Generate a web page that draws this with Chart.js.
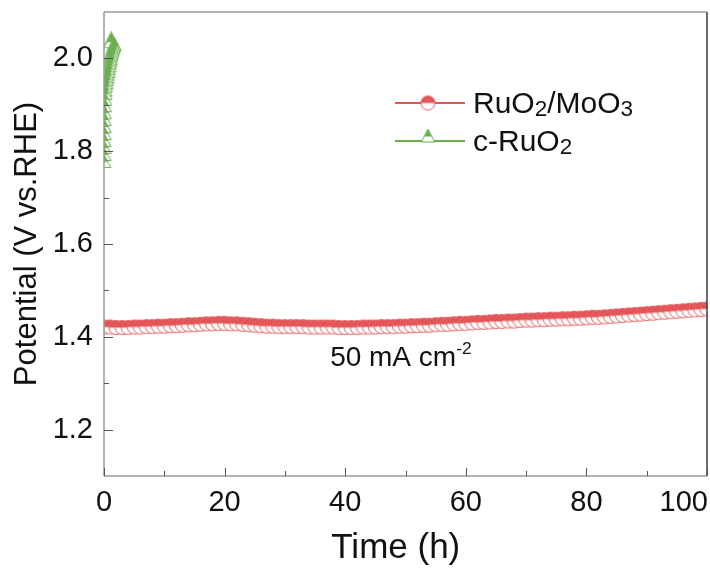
<!DOCTYPE html>
<html>
<head>
<meta charset="utf-8">
<title>Stability test</title>
<script src="https://cdn.jsdelivr.net/npm/chart.js@4.4.1/dist/chart.umd.min.js"></script>
<style>
  html, body { margin: 0; padding: 0; background: #fff; }
  #wrap { width: 710px; height: 569px; }
</style>
</head>
<body>
<div id="wrap"><canvas id="chart" width="710" height="569"></canvas></div>
<script>
// chronopotentiometry at 50 mA cm-2, RuO2/MoO3 vs commercial RuO2

const RED = '#e35557';
const GREEN = '#6aaf4f';
const FONT = '"Liberation Sans", Arial, sans-serif';

const seriesNames = ['RuO2/MoO3', 'c-RuO2'];

// RuO2/MoO3 : time (h) / potential (V vs. RHE)
const ruTime = [
  0, 1, 2, 3, 4, 5, 6, 7, 8, 9, 10,
  11, 12, 13, 14, 15, 16, 17, 18, 19, 20,
  21, 22, 23, 24, 25, 26, 27, 28, 29, 30,
  31, 32, 33, 34, 35, 36, 37, 38, 39, 40,
  41, 42, 43, 44, 45, 46, 47, 48, 49, 50,
  51, 52, 53, 54, 55, 56, 57, 58, 59, 60,
  61, 62, 63, 64, 65, 66, 67, 68, 69, 70,
  71, 72, 73, 74, 75, 76, 77, 78, 79, 80,
  81, 82, 83, 84, 85, 86, 87, 88, 89, 90,
  91, 92, 93, 94, 95, 96, 97, 98, 99, 100
];
const ruPotential = [
  1.421, 1.421, 1.420, 1.420, 1.420, 1.421, 1.421, 1.422, 1.422, 1.423, 1.423,
  1.424, 1.424, 1.425, 1.426, 1.426, 1.427, 1.428, 1.428, 1.429, 1.429,
  1.428, 1.428, 1.427, 1.426, 1.425, 1.424, 1.423, 1.423, 1.422, 1.422,
  1.422, 1.422, 1.422, 1.421, 1.421, 1.421, 1.421, 1.421, 1.420, 1.420,
  1.420, 1.420, 1.421, 1.421, 1.421, 1.422, 1.422, 1.422, 1.423, 1.423,
  1.424, 1.424, 1.425, 1.425, 1.426, 1.427, 1.427, 1.428, 1.429, 1.429,
  1.430, 1.431, 1.431, 1.432, 1.433, 1.433, 1.434, 1.434, 1.435, 1.436,
  1.436, 1.437, 1.437, 1.438, 1.438, 1.439, 1.439, 1.440, 1.440, 1.441,
  1.442, 1.442, 1.443, 1.444, 1.445, 1.446, 1.447, 1.448, 1.449, 1.450,
  1.451, 1.452, 1.453, 1.454, 1.455, 1.456, 1.457, 1.458, 1.459, 1.460
];

// c-RuO2 : fails almost immediately
const cTime = [
  0.00, 0.00, 0.02, 0.04, 0.06, 0.08, 0.10, 0.12, 0.14, 0.16, 0.18,
  0.20, 0.28, 0.36, 0.44, 0.52, 0.60, 0.68, 0.76, 0.84, 0.92,
  1.00, 1.08, 1.16, 1.24, 1.32, 1.40, 1.48, 1.56, 1.64, 1.72,
  1.10, 1.20
];
const cPotential = [
  1.778, 1.793, 1.808, 1.823, 1.838, 1.853, 1.868, 1.883, 1.898, 1.912, 1.924,
  1.932, 1.940, 1.947, 1.954, 1.960, 1.966, 1.972, 1.978, 1.984, 1.990,
  1.995, 2.000, 2.005, 2.010, 2.014, 2.018, 2.022, 2.025, 2.028, 2.030,
  2.036, 2.042
];

const xMajorTicks = [0, 20, 40, 60, 80, 100];
const xMinorTicks = [10, 30, 50, 70, 90];
const yMajorTicks = [1.2, 1.4, 1.6, 1.8, 2.0];
const yMinorTicks = [1.3, 1.5, 1.7, 1.9];

// label "50 mA cm-2" anchored in data units
const noteText = [['50 mA cm', 0], ['-2', 2]];
const noteAt = { x: 37.5, y: 1.338 };

// ---- half filled markers (top half coloured, bottom half white)
function halfCircle(color, r){
  const s = 17, m = s / 2;
  const c = document.createElement('canvas');
  c.width = c.height = s;
  const g = c.getContext('2d');
  g.beginPath(); g.arc(m, m, r, 0, Math.PI * 2); g.fillStyle = '#fff'; g.fill();
  g.beginPath(); g.arc(m, m, r, Math.PI, Math.PI * 2); g.closePath(); g.fillStyle = color; g.fill();
  g.beginPath(); g.arc(m, m, r, 0, Math.PI * 2);
  g.strokeStyle = color; g.lineWidth = 1; g.stroke();
  return c;
}

function halfTriangle(color){
  const s = 15;
  const c = document.createElement('canvas');
  c.width = c.height = s;
  const g = c.getContext('2d');
  const path = () => { g.beginPath(); g.moveTo(7.5, 0.5); g.lineTo(14.2, 13.5); g.lineTo(0.8, 13.5); g.closePath(); };
  path(); g.fillStyle = '#fff'; g.fill();
  g.save(); g.beginPath(); g.rect(0, 0, s, 8); g.clip();
  path(); g.fillStyle = color; g.fill(); g.restore();
  path(); g.strokeStyle = color; g.lineWidth = 1; g.stroke();
  return c;
}

const ruMarker = halfCircle(RED, 7);
const cMarker = halfTriangle(GREEN);

function toPoints(xs, ys){ return xs.map((x, i) => ({ x: x, y: ys[i] })); }

// text with sub (1) / superscript (2) parts
function drawRich(ctx, segs, x, y, size){
  ctx.textAlign = 'left';
  ctx.textBaseline = 'alphabetic';
  for (const [t, mode] of segs){
    let fs = size, dy = 0;
    if (mode === 1){ fs = size * 0.75; dy = size * 0.1; }
    if (mode === 2){ fs = size * 0.62; dy = -size * 0.4; }
    ctx.font = fs + 'px ' + FONT;
    ctx.fillText(t, x, y + dy);
    x += ctx.measureText(t).width;
  }
}

// chemical label -> digits after letters become subscripts
function chemSegs(label){
  return label.split(/(\d+)/).filter(s => s.length).map(s => [s, /^\d+$/.test(s) ? 1 : 0]);
}

const framePlugin = {
  id: 'frame',
  afterDraw(chart){
    const ctx = chart.ctx;
    const a = chart.chartArea;
    const xs = chart.scales.x, ys = chart.scales.y;
    ctx.save();

    // frame
    ctx.lineWidth = 1.5;
    ctx.strokeStyle = '#9a9a9a';
    ctx.beginPath();
    ctx.moveTo(a.left, a.top); ctx.lineTo(a.right, a.top);
    ctx.moveTo(a.left, a.top); ctx.lineTo(a.left, a.bottom);
    ctx.moveTo(a.left, a.bottom); ctx.lineTo(a.right, a.bottom);
    ctx.stroke();
    ctx.strokeStyle = '#3c3c3c';
    ctx.beginPath(); ctx.moveTo(a.right, a.top); ctx.lineTo(a.right, a.bottom); ctx.stroke();

    // inward ticks
    ctx.lineWidth = 1;
    ctx.strokeStyle = '#555';
    ctx.beginPath();
    yMajorTicks.forEach(v => { const p = Math.round(ys.getPixelForValue(v)) + 0.5; ctx.moveTo(a.left, p); ctx.lineTo(a.left + 9, p); });
    yMinorTicks.forEach(v => { const p = Math.round(ys.getPixelForValue(v)) + 0.5; ctx.moveTo(a.left, p); ctx.lineTo(a.left + 5, p); });
    xMajorTicks.forEach(v => { const p = Math.round(xs.getPixelForValue(v)) + 0.5; ctx.moveTo(p, a.bottom); ctx.lineTo(p, a.bottom - 8); });
    xMinorTicks.forEach(v => { const p = Math.round(xs.getPixelForValue(v)) + 0.5; ctx.moveTo(p, a.bottom); ctx.lineTo(p, a.bottom - 5); });
    ctx.stroke();

    // x tick labels, kept inside the canvas
    ctx.fillStyle = '#111';
    ctx.font = '29px ' + FONT;
    ctx.textAlign = 'center';
    ctx.textBaseline = 'alphabetic';
    xMajorTicks.forEach(v => {
      const t = String(v);
      const w = ctx.measureText(t).width;
      const p = Math.min(xs.getPixelForValue(v), chart.width - 2 - w / 2);
      ctx.fillText(t, p, a.bottom + 35);
    });

    // annotation
    drawRich(ctx, noteText, xs.getPixelForValue(noteAt.x), ys.getPixelForValue(noteAt.y), 28);

    // legend
    const rows = [
      { img: ruMarker, color: RED, y: 103, my: 103 },
      { img: cMarker, color: GREEN, y: 141, my: 136 }
    ];
    rows.forEach((r, i) => {
      ctx.strokeStyle = r.color;
      ctx.lineWidth = 2;
      ctx.beginPath(); ctx.moveTo(395, r.y); ctx.lineTo(465, r.y); ctx.stroke();
      ctx.drawImage(r.img, 428 - r.img.width / 2, r.my - r.img.height / 2);
      ctx.fillStyle = '#111';
      drawRich(ctx, chemSegs(seriesNames[i]), 473, r.y + 10, 30);
    });
    ctx.restore();
  }
};

new Chart(document.getElementById('chart'), {
  type: 'line',
  data: {
    datasets: [
      {
        label: seriesNames[0],
        data: toPoints(ruTime, ruPotential),
        borderColor: RED,
        borderWidth: 1.5,
        pointStyle: ruMarker,
        pointRadius: 7,
        tension: 0
      },
      {
        label: seriesNames[1],
        // plotted from the top down so the lower markers sit on top
        data: toPoints(cTime, cPotential).reverse(),
        borderColor: GREEN,
        borderWidth: 1.5,
        pointStyle: cMarker,
        pointRadius: 7,
        tension: 0
      }
    ]
  },
  options: {
    responsive: false,
    animation: false,
    events: [],
    layout: { padding: { top: 12, right: 3, left: 0, bottom: 0 }, autoPadding: false },
    plugins: { legend: { display: false }, tooltip: { enabled: false } },
    scales: {
      x: {
        type: 'linear', min: 0, max: 100,
        grid: { display: false, drawTicks: false },
        border: { display: false },
        ticks: { display: false },
        title: { display: true, text: 'Time (h)  ', color: '#111', font: { family: FONT, size: 35 }, padding: { top: 0, bottom: 0 } },
        afterFit(s){ s.height = 93; s.paddingLeft = 0; s.paddingRight = 0; }
      },
      y: {
        type: 'linear', min: 1.1, max: 2.1,
        grid: { display: false, drawTicks: false },
        border: { display: false },
        afterBuildTicks(s){ s.ticks = yMajorTicks.map(v => ({ value: v })); },
        ticks: { color: '#111', font: { family: FONT, size: 29 }, padding: 11, callback: v => v.toFixed(1) },
        title: { display: true, text: 'Potential (V vs.RHE)', color: '#111', font: { family: FONT, size: 31 }, padding: { top: 9, bottom: 0 } },
        afterFit(s){ s.width = 104; s.paddingTop = 0; s.paddingBottom = 0; }
      }
    }
  },
  plugins: [framePlugin]
});
</script>
</body>
</html>
